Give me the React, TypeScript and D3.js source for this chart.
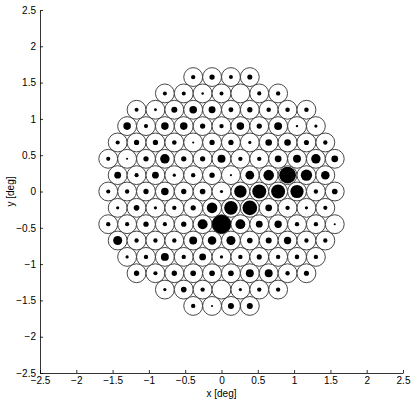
import React, { useEffect, useRef } from "react";
import * as d3 from "d3";

// Hexagonal mosaic: rows from top (k = 7) to bottom (k = -7)
const rowIndex = [7, 6, 5, 4, 3, 2, 1, 0, -1, -2, -3, -4, -5, -6, -7];

// Dot size per cell (fraction of the cell radius), left to right in each row
const row7 = [0.23, 0.28, 0.21, 0.27];
const row6 = [0.21, 0.21, 0.13, 0.21, 0, 0.22, 0.23];
const row5 = [0.21, 0.15, 0.32, 0.4, 0.37, 0.26, 0.28, 0.24, 0.24, 0.24];
const row4 = [0.4, 0.22, 0.4, 0.4, 0.28, 0.23, 0.4, 0.28, 0.42, 0.13, 0.17];
const row3 = [0.22, 0.28, 0.28, 0.24, 0.11, 0.28, 0.28, 0.17, 0.35, 0.35, 0.27, 0.23];
const row2 = [0.22, 0.11, 0.28, 0.5, 0.28, 0.28, 0.42, 0.23, 0.23, 0.36, 0.42, 0.5, 0.36];
const row1 = [0.36, 0.22, 0.36, 0.17, 0.23, 0.28, 0.11, 0.46, 0.56, 0.89, 0.6, 0.45];
const row0 = [0.22, 0.23, 0.28, 0.4, 0.28, 0.3, 0.17, 0.66, 0.74, 0.74, 0.7, 0.23, 0.3];
const rowM1 = [0.17, 0.3, 0.17, 0.23, 0.28, 0.56, 0.72, 0.78, 0.36, 0.23, 0.17, 0.22];
const rowM2 = [0.23, 0.22, 0.28, 0.22, 0.28, 0.53, 1.0, 0.52, 0.36, 0.39, 0.23, 0.23, 0.11];
const rowM3 = [0.48, 0.23, 0.23, 0.23, 0.42, 0.45, 0.48, 0.3, 0.32, 0.39, 0.23, 0.23];
const rowM4 = [0.17, 0.23, 0.42, 0.23, 0.36, 0.17, 0.23, 0.27, 0.23, 0.24, 0.23];
const rowM5 = [0.28, 0.22, 0.28, 0.3, 0.3, 0.3, 0.42, 0.42, 0.23, 0.27];
const rowM6 = [0.17, 0.3, 0.23, 0, 0.17, 0.23, 0.23];
const rowM7 = [0.23, 0.11, 0.32, 0.32];

const rowValues = [row7, row6, row5, row4, row3, row2, row1, row0, rowM1, rowM2, rowM3, rowM4, rowM5, rowM6, rowM7];

// Lattice spacing (deg)
const spacing = 0.26;

const axisTicks = [-2.5, -2, -1.5, -1, -0.5, 0, 0.5, 1, 1.5, 2, 2.5];
const xLabel = "x [deg]";
const yLabel = "y [deg]";

const W = 415;
const H = 403;

export default function App() {
  const ref = useRef<SVGSVGElement | null>(null);

  useEffect(() => {
    const svg = d3.select(ref.current);
    svg.selectAll("*").remove();

    const x = d3.scaleLinear().domain([-2.5, 2.5]).range([40, 403]);
    const y = d3.scaleLinear().domain([-2.5, 2.5]).range([373, 10]);
    const pxPerDeg = x(1) - x(0);
    const cellR = (spacing / 2) * pxPerDeg;
    const dotR = d3.scaleLinear().domain([0, 1]).range([0, cellR]);

    const cells: { cx: number; cy: number; v: number }[] = [];
    rowIndex.forEach((k, ri) => {
      const vals = rowValues[ri];
      const n = vals.length;
      vals.forEach((v, i) => {
        const cx = (i - (n - 1) / 2) * spacing;
        const cy = (k * spacing * Math.sqrt(3)) / 2;
        cells.push({ cx, cy, v });
      });
    });

    const font = "'Liberation Sans', Arial, Helvetica, sans-serif";
    const fmt = d3.format("~g");

    const g = svg.append("g");
    g.selectAll("circle.cell")
      .data(cells)
      .join("circle")
      .attr("class", "cell")
      .attr("cx", (d) => x(d.cx))
      .attr("cy", (d) => y(d.cy))
      .attr("r", cellR)
      .attr("fill", "#fff")
      .attr("stroke", "#333")
      .attr("stroke-width", 0.9);

    g.selectAll("circle.dot")
      .data(cells.filter((d) => d.v > 0))
      .join("circle")
      .attr("class", "dot")
      .attr("cx", (d) => x(d.cx))
      .attr("cy", (d) => y(d.cy))
      .attr("r", (d) => dotR(d.v))
      .attr("fill", "#000");

    const xAxis = d3
      .axisBottom(x)
      .tickValues(axisTicks)
      .tickFormat((d) => fmt(d as number))
      .tickSizeInner(-3)
      .tickSizeOuter(0)
      .tickPadding(4);
    const yAxis = d3
      .axisLeft(y)
      .tickValues(axisTicks)
      .tickFormat((d) => fmt(d as number))
      .tickSizeInner(-3)
      .tickSizeOuter(0)
      .tickPadding(4);

    const gx = svg.append("g").attr("transform", `translate(0,${y(-2.5)})`).call(xAxis);
    const gy = svg.append("g").attr("transform", `translate(${x(-2.5)},0)`).call(yAxis);
    [gx, gy].forEach((ax) => {
      ax.selectAll("text").attr("font-family", font).attr("font-size", 10).attr("fill", "#000");
      ax.selectAll("line").attr("stroke", "#000").attr("stroke-width", 0.8);
      ax.select(".domain").attr("stroke", "#000").attr("stroke-width", 0.8);
    });

    svg
      .append("text")
      .attr("x", x(0))
      .attr("y", 397)
      .attr("text-anchor", "middle")
      .attr("font-family", font)
      .attr("font-size", 10)
      .text(xLabel);

    svg
      .append("text")
      .attr("transform", `translate(14,${y(0)}) rotate(-90)`)
      .attr("text-anchor", "middle")
      .attr("font-family", font)
      .attr("font-size", 10)
      .text(yLabel);
  }, []);

  return (
    <svg
      ref={ref}
      width={W}
      height={H}
      style={{ position: "absolute", left: 0, top: 0, background: "#fff" }}
    />
  );
}
